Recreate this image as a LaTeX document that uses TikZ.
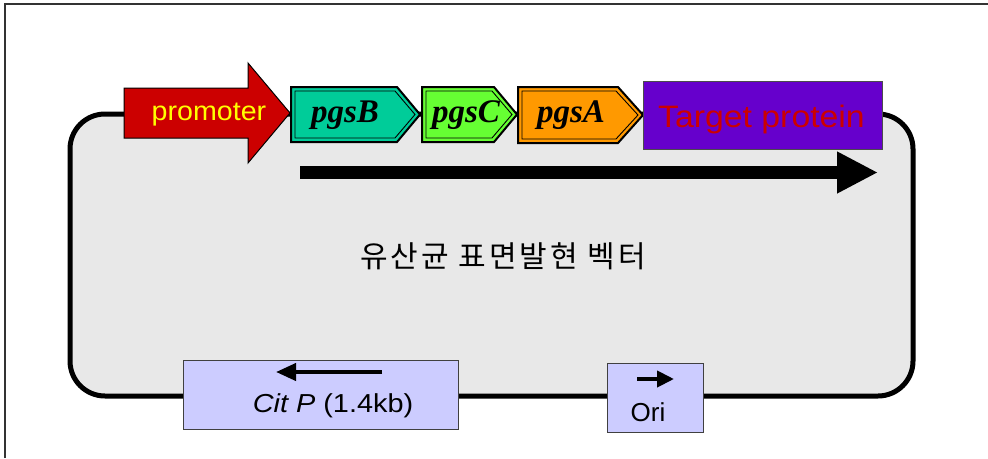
\documentclass[tikz,border=0pt]{standalone}
\usepackage{fontspec}
\setmainfont{Liberation Sans}
\newfontfamily\serff{Liberation Serif}
\newfontfamily\krf[LetterSpace=10]{Noto Sans CJK KR}
\usetikzlibrary{arrows.meta}
\definecolor{plasgray}{HTML}{E8E8E8}
\definecolor{promred}{HTML}{CC0000}
\definecolor{pgsbcol}{HTML}{00CC99}
\definecolor{pgsccol}{HTML}{66FF33}
\definecolor{pgsacol}{HTML}{FF9900}
\definecolor{targetcol}{HTML}{6600CC}
\definecolor{boxblue}{HTML}{CCCCFF}
\definecolor{promtext}{HTML}{FFFF00}
\tikzset{
  geneout/.style={line width=2pt, draw=black, line join=miter},
  genein/.style={line width=0.9pt, draw=black},
  genelabel/.style={font=\serff\bfseries\itshape\fontsize{33}{33}\selectfont, inner sep=0pt},
  sitebox/.style={draw=black!75, line width=1pt, fill=boxblue, inner sep=0pt},
  sitelabel/.style={font=\fontsize{26}{26}\selectfont, inner sep=0pt},
  sitearrow/.style={line width=4pt, -{Triangle[length=20pt,width=17pt]}}
}
\begin{document}
\begin{tikzpicture}[x=1pt,y=-1pt]
\useasboundingbox (0,0) rectangle (988,458);
\fill[white] (0,0) rectangle (988,458);
% frame
\draw[line width=2pt, black!80] (4.5,458) -- (4.5,4) -- (988,4);
% plasmid
\draw[line width=5pt, fill=plasgray, rounded corners=35pt] (70,114) rectangle (913,396);
% promoter arrow
\draw[line width=1pt, fill=promred, line join=miter]
  (124,88) -- (248,88) -- (248,63) -- (290,113) -- (248,163) -- (248,138) -- (124,138) -- cycle;
\node[font=\fontsize{27}{27}\selectfont, text=promtext, inner sep=0pt] (promoter) at (209,115) {\scalebox{1.06}[1]{promoter}};
% pgsB
\draw[geneout, fill=pgsbcol] (291,87) -- (397,87) -- (420,114.5) -- (397,142) -- (291,142) -- cycle;
\draw[genein] (295,91) -- (395,91) -- (415,114.5) -- (395,138) -- (295,138) -- cycle;
\node[genelabel] (pgsB) at (345,115) {pgsB};
% pgsC
\draw[geneout, fill=pgsccol] (422,87) -- (494,87) -- (517,114.5) -- (494,142) -- (422,142) -- cycle;
\draw[genein] (426,91) -- (492,91) -- (512,114.5) -- (492,138) -- (426,138) -- cycle;
\node[genelabel] (pgsC) at (466,115) {pgsC};
% pgsA
\draw[geneout, fill=pgsacol] (518,87) -- (618,87) -- (643,115) -- (618,143) -- (518,143) -- cycle;
\draw[genein] (522,91) -- (616,91) -- (638,115) -- (616,139) -- (522,139) -- cycle;
\node[genelabel] (pgsA) at (571,115) {pgsA};
% target protein
\node[draw=black!70, line width=1pt, fill=targetcol, minimum width=239pt, minimum height=68pt, inner sep=0pt] (target) at (762.5,115) {};
\node[text=promred, font=\fontsize{31}{31}\selectfont, inner sep=0pt] (targetlabel) at (761.5,119) {\scalebox{1.09}[1]{Target protein}};
% big transcription arrow
\coordinate (bigs) at (300,172.5);
\coordinate (bige) at (878,172.5);
\draw[line width=13pt, -{Triangle[length=41pt,width=39pt]}] (bigs) -- (bige);
% title
\node[font=\krf\fontsize{30}{30}\selectfont, inner sep=0pt] (title) at (503,256) {유산균 표면발현 벡터};
% Cit P box
\node[sitebox, minimum width=275pt, minimum height=69pt] (citbox) at (320.5,394.5) {};
\coordinate (citas) at (382,372);
\coordinate (citae) at (276,372);
\draw[sitearrow] (citas) -- (citae);
\node[sitelabel] (citlabel) at (333,406) {\scalebox{1.11}[1]{\textit{Cit P} (1.4kb)}};
% Ori box
\node[sitebox, minimum width=96pt, minimum height=69pt] (oribox) at (655,397.5) {};
\coordinate (orias) at (637,379);
\coordinate (oriae) at (674,379);
\draw[sitearrow, -{Triangle[length=17pt,width=16pt]}] (orias) -- (oriae);
\node[sitelabel] (orilabel) at (648,412) {Ori};
\end{tikzpicture}
\end{document}
